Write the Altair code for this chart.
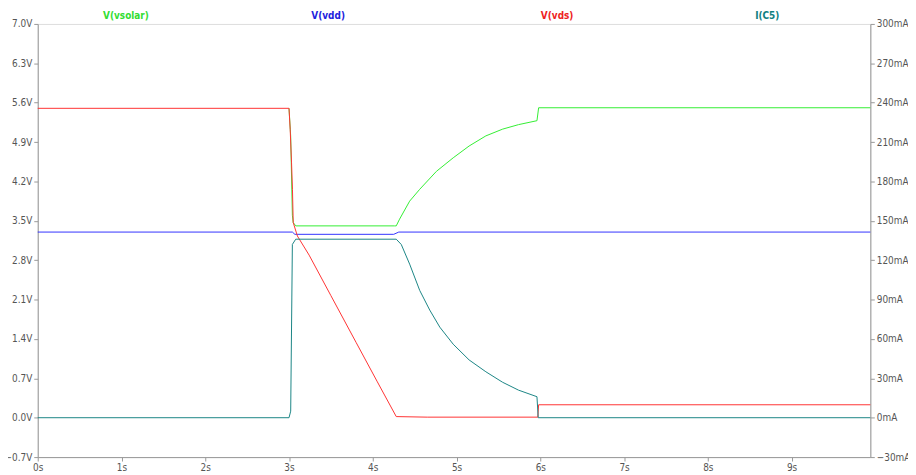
import altair as alt
import pandas as pd

# ---- data ----
vsolar_t = [3.00, 3.02, 3.04, 3.05, 3.08, 4.26, 4.28, 4.32, 4.44, 4.56, 4.76, 4.96, 5.15, 5.35, 5.55, 5.74, 5.96, 5.98, 9.94]
vsolar_v = [5.50, 5.00, 3.60, 3.47, 3.41, 3.41, 3.41, 3.53, 3.85, 4.06, 4.38, 4.62, 4.83, 5.01, 5.13, 5.21, 5.28, 5.51, 5.51]

vdd_t = [0, 3.04, 3.07, 4.25, 4.31, 9.94]
vdd_v = [3.30, 3.30, 3.26, 3.26, 3.30, 3.30]

vds_t = [0, 3.00, 3.014, 3.030, 3.041, 3.050, 3.10, 3.24, 3.50, 3.80, 4.05, 4.28, 4.65, 5.97, 5.98, 9.94]
vds_v = [5.50, 5.50, 5.12, 4.53, 4.06, 3.47, 3.23, 2.89, 2.17, 1.34, 0.65, 0.02, 0.01, 0.01, 0.23, 0.23]

ic5_t = [0, 3.00, 3.02, 3.04, 3.08, 4.28, 4.34, 4.44, 4.56, 4.68, 4.80, 4.96, 5.15, 5.35, 5.55, 5.74, 5.96, 5.975, 9.94]
ic5_ma = [0, 0, 5, 132, 136, 136, 132, 117, 97, 82, 69, 56, 44, 35, 27, 21, 16, 0, 0]

series_names = ["V(vsolar)", "V(vdd)", "V(vds)", "I(C5)"]
line_colors = ["#33ee33", "#3333ff", "#ff3333", "#1a8585"]
title_colors = ["#33dd33", "#2222dd", "#ee2222", "#118080"]
title_px = [127, 331, 562, 774]

volt_ticks = [-0.7, 0.0, 0.7, 1.4, 2.1, 2.8, 3.5, 4.2, 4.9, 5.6, 6.3, 7.0]
amp_ticks = [-30, 0, 30, 60, 90, 120, 150, 180, 210, 240, 270, 300]
time_ticks = [0, 1, 2, 3, 4, 5, 6, 7, 8, 9]

rows = []
for name, ts, vs in [("V(vsolar)", vsolar_t, vsolar_v), ("V(vdd)", vdd_t, vdd_v), ("V(vds)", vds_t, vds_v)]:
    for i, (t, v) in enumerate(zip(ts, vs)):
        rows.append({"series": name, "t": t, "v": v, "i": i})
vdf = pd.DataFrame(rows)
idf = pd.DataFrame({"series": "I(C5)", "t": ic5_t, "ma": ic5_ma, "i": range(len(ic5_t))})

FONT = "DejaVu Sans Condensed"
W, H = 840, 437

xaxis = alt.Axis(values=time_ticks, labelExpr="datum.value + 's'", title=None,
                 grid=False, domainColor="#999999", tickColor="#999999",
                 labelColor="#555555", labelFont=FONT, labelFontSize=10, tickSize=4,
                 labelFlush=False, labelPadding=2)
xscale = alt.Scale(domain=[0, 9.94], nice=False, zero=False)

volts = alt.Chart(vdf).mark_line(strokeWidth=1, interpolate="linear").encode(
    x=alt.X("t:Q", scale=xscale, axis=xaxis),
    y=alt.Y("v:Q", scale=alt.Scale(domain=[-0.7, 7.0], nice=False, zero=False),
            axis=alt.Axis(orient="left", values=volt_ticks,
                          labelExpr="format(datum.value, '.1f') + 'V'", title=None, grid=False,
                          domainColor="#999999", tickColor="#999999", labelColor="#555555",
                          labelFont=FONT, labelFontSize=10, tickSize=4, labelPadding=2)),
    color=alt.Color("series:N", scale=alt.Scale(domain=series_names, range=line_colors), legend=None),
    detail="series:N",
    order="i:Q",
)

amps = alt.Chart(idf).mark_line(strokeWidth=1, color=line_colors[3]).encode(
    x=alt.X("t:Q", scale=xscale, axis=xaxis),
    y=alt.Y("ma:Q", scale=alt.Scale(domain=[-30, 300], nice=False, zero=False),
            axis=alt.Axis(orient="right", values=amp_ticks,
                          labelExpr="format(datum.value, 'd') + 'mA'", title=None, grid=False,
                          domainColor="#999999", tickColor="#999999", labelColor="#555555",
                          labelFont=FONT, labelFontSize=10, tickSize=4, labelPadding=2)),
    order="i:Q",
)

titles = []
for name, col, px in zip(series_names, title_colors, title_px):
    titles.append(
        alt.Chart(pd.DataFrame({"label": [name]})).mark_text(
            color=col, font=FONT, fontSize=10, fontWeight="bold", baseline="bottom", align="center"
        ).encode(x=alt.value(px - 38), y=alt.value(-3), text="label:N")
    )

chart = alt.layer(volts, amps, *titles).resolve_scale(y="independent", color="independent").properties(
    width=W, height=H,
    autosize=alt.AutoSizeParams(type="none"),
    padding={"left": 30, "top": 14, "right": 38, "bottom": 16},
).configure_view(stroke="#999999", strokeWidth=1).configure(background="white")

chart.save("out.html", embed_options={"renderer": "svg", "actions": False})
